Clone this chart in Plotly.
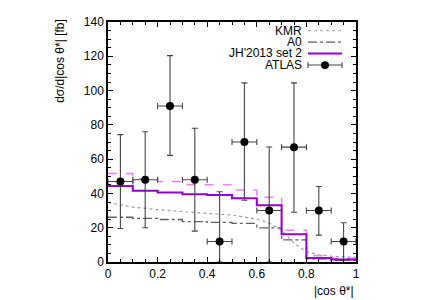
import plotly.graph_objects as go

# ---- data ----
bin_edges = [0.0, 0.1, 0.2, 0.3, 0.4, 0.5, 0.6, 0.7, 0.8, 0.9, 1.0]
jh_central = [44.4, 41.6, 40.6, 39.5, 39.1, 37.2, 33.1, 16.2, 2.4, 1.4]
jh_upper = [51.6, 48.6, 46.9, 45.0, 45.0, 42.0, 37.8, 18.5, 3.6, 2.2]
a0_vals = [26.1, 25.5, 24.8, 23.6, 23.1, 22.5, 19.9, 12.9, 1.8, 1.0]
kmr_x = [0.0, 0.1, 0.2, 0.3, 0.4, 0.5, 0.6, 0.65, 0.7, 0.75, 0.8, 0.85, 0.9, 1.0]
kmr_y = [34.8, 32.0, 30.6, 29.3, 28.3, 27.4, 25.0, 22.8, 18.5, 11.0, 6.0, 4.2, 3.4, 2.8]
atlas_x = [0.05, 0.15, 0.25, 0.35, 0.45, 0.55, 0.65, 0.75, 0.85, 0.95]
atlas_y = [47.0, 48.0, 91.0, 48.0, 12.0, 70.0, 30.0, 67.0, 30.0, 12.0]
atlas_hi = [74.3, 76.0, 120.4, 78.0, 41.0, 104.5, 67.1, 104.5, 44.0, 22.9]
atlas_lo = [19.5, 20.0, 62.2, 18.0, 0.0, 36.0, 0.0, 29.0, 15.7, 1.0]
atlas_xerr = [0.05] * 10
x_ticks = [0, 0.2, 0.4, 0.6, 0.8, 1]
x_ticklabels = ["0", "0.2", "0.4", "0.6", "0.8", "1"]
y_ticks = [0, 20, 40, 60, 80, 100, 120, 140]

FONT = "Liberation Sans, Arial, sans-serif"


def steps(vals):
    return vals + [vals[-1]]


fig = go.Figure()

fig.add_trace(go.Scatter(x=kmr_x, y=kmr_y, mode="lines",
                         line=dict(color="#a0a0a0", width=1.2, dash="dot"),
                         showlegend=False))
fig.add_trace(go.Scatter(x=bin_edges, y=steps(a0_vals), mode="lines", line_shape="hv",
                         line=dict(color="#606060", width=1.3, dash="dashdot"),
                         showlegend=False))
fig.add_trace(go.Scatter(x=bin_edges, y=steps(jh_upper), mode="lines", line_shape="hv",
                         line=dict(color="#ee82ee", width=1.5, dash="dash"),
                         showlegend=False))
fig.add_trace(go.Scatter(x=bin_edges, y=steps(jh_central), mode="lines", line_shape="hv",
                         line=dict(color="#9400d3", width=2),
                         showlegend=False))
fig.add_trace(go.Scatter(
    x=atlas_x, y=atlas_y, mode="markers",
    marker=dict(color="black", size=8),
    error_y=dict(type="data", symmetric=False,
                 array=[h - v for h, v in zip(atlas_hi, atlas_y)],
                 arrayminus=[v - l for v, l in zip(atlas_y, atlas_lo)],
                 color="#444444", thickness=1.1, width=3),
    error_x=dict(type="data", array=atlas_xerr, color="#444444", thickness=1.1, width=3),
    showlegend=False))

# ---- custom gnuplot-style legend (paper coords) ----
PW, PH = 248.0, 247.0
def px(xp):  # pixel from plot-left to paper
    return xp / PW
def py(yp):  # pixel from plot-top to paper
    return 1 - yp / PH

rows = [9.0, 20.7, 32.3, 44.3]
labels = ["KMR", "A0", "JH'2013 set 2", "ATLAS"]
sx0, sx1 = px(200), px(234)
for r, lab in zip(rows, labels):
    fig.add_annotation(x=px(195), y=py(r), xref="paper", yref="paper", text=lab,
                       showarrow=False, xanchor="right", yanchor="middle", borderpad=0,
                       font=dict(family=FONT, size=12, color="black"))
fig.add_shape(type="line", xref="paper", yref="paper", x0=sx0, x1=sx1, y0=py(rows[0]), y1=py(rows[0]),
              line=dict(color="#a0a0a0", width=1.2, dash="dot"))
fig.add_shape(type="line", xref="paper", yref="paper", x0=sx0, x1=sx1, y0=py(rows[1]), y1=py(rows[1]),
              line=dict(color="#606060", width=1.3, dash="dashdot"))
fig.add_shape(type="line", xref="paper", yref="paper", x0=sx0, x1=sx1, y0=py(rows[2]), y1=py(rows[2]),
              line=dict(color="#9400d3", width=2))
fig.add_shape(type="line", xref="paper", yref="paper", x0=sx0, x1=sx1, y0=py(rows[3]), y1=py(rows[3]),
              line=dict(color="#444444", width=1.1))
for cx in (sx0, sx1):
    fig.add_shape(type="line", xref="paper", yref="paper", x0=cx, x1=cx,
                  y0=py(rows[3] - 3), y1=py(rows[3] + 3), line=dict(color="#444444", width=1.1))
cxm = (sx0 + sx1) / 2
fig.add_shape(type="circle", xref="paper", yref="paper",
              x0=cxm - px(4), x1=cxm + px(4), y0=py(rows[3] + 4), y1=py(rows[3] - 4),
              fillcolor="black", line=dict(color="black", width=0))

# axis titles
fig.add_annotation(x=-48 / PW, y=py(40), xref="paper", yref="paper",
                   text="dσ/d|cos θ*| [fb]", textangle=-90, showarrow=False,
                   xanchor="center", yanchor="middle",
                   font=dict(family=FONT, size=12, color="black"))
fig.add_annotation(x=1, y=py(277), xref="paper", yref="paper",
                   text="|cos θ*|", showarrow=False, xanchor="right", yanchor="middle",
                   font=dict(family=FONT, size=12, color="black"))

axis_common = dict(showline=True, linecolor="black", linewidth=1.5, mirror="allticks",
                   ticks="inside", ticklen=5, tickcolor="black", tickwidth=1,
                   showgrid=False, zeroline=False,
                   tickfont=dict(family=FONT, size=12, color="black"))
fig.update_xaxes(range=[0, 1], tickvals=x_ticks, ticktext=x_ticklabels,
                 minor=dict(dtick=0.05, ticks="inside", ticklen=3, tickcolor="black", showgrid=False),
                 **axis_common)
fig.update_yaxes(range=[0, 140], tickvals=y_ticks,
                 minor=dict(dtick=5, ticks="inside", ticklen=3, tickcolor="black", showgrid=False),
                 **axis_common)

# page body has an 8px margin, so margins are offset to put the plot box
# at the same window position as the reference
fig.update_layout(width=428, height=300, margin=dict(l=100, r=80, t=7, b=46),
                  paper_bgcolor="white", plot_bgcolor="white",
                  font=dict(family=FONT, size=12, color="black"))

fig.write_html("out.html")
